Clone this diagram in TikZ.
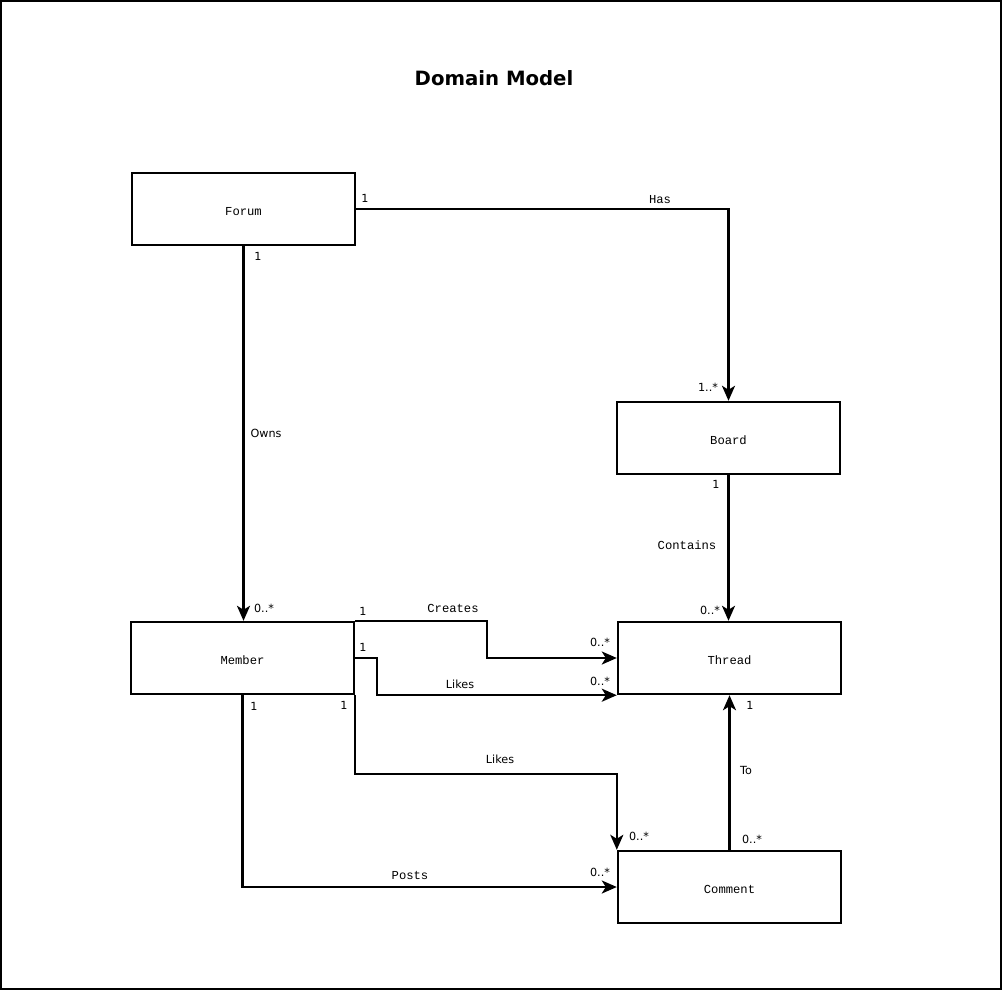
\documentclass[tikz,border=0pt]{standalone}
\usepackage{fontspec}
\setmainfont{DejaVu Sans}
\newfontfamily\monof{Liberation Mono}
\newfontfamily\sansf{DejaVu Sans}
\usetikzlibrary{arrows.meta,calc}
\begin{document}
\begin{tikzpicture}[x=1pt,y=-1pt,
  cls/.style={draw,line width=2.4pt,minimum width=223pt,minimum height=72pt,inner sep=0pt,text height=12pt,text depth=0pt,font=\monof\fontsize{12.2}{13}\selectfont},
  conn/.style={line width=2.4pt,-{Stealth[length=15pt,width=13pt,inset=4pt]}},
  ml/.style={font=\monof\fontsize{12.2}{13}\selectfont,inner sep=0pt},
  sl/.style={font=\sansf\fontsize{11.2}{13}\selectfont,inner sep=0pt}]
\useasboundingbox (0,0) rectangle (1004,993);
\draw[line width=2.2pt] (1,1) rectangle (1001,989);
\node[font=\sansf\bfseries\fontsize{19.7}{22}\selectfont] (title) at (494,78) {Domain Model};
\node[cls] (forum) at (243.5,209) {Forum};
\node[cls] (board) at (728.5,438) {Board};
\node[cls] (member) at (242.5,658) {Member};
\node[cls] (thread) at (729.5,658) {Thread};
\node[cls] (comment) at (729.5,887) {Comment};
% connectors
\draw[conn] (forum.east) -| (board.north);
\draw[conn] (forum.south) -- (forum.south |- member.north);
\draw[conn] (board.south) -- (board.south |- thread.north);
\draw[conn] (member.north east) -- ++(132,0) |- (thread.west);
\draw[conn] (member.east) -- ++(22,0) |- (thread.south west);
\draw[conn] (member.south east) -- ++(0,79) -| (comment.north west);
\draw[conn] (member.south) |- (comment.west);
\draw[conn] (comment.north) -- (thread.south);
% labels
\node[sl] (l1) at (365,198) {1};
\node[ml] (l2) at (660,200) {Has};
\node[sl] (l3) at (708,387) {1..*};
\node[sl] (l4) at (258,256) {1};
\node[sl] (l5) at (266,433) {Owns};
\node[sl] (l6) at (264,608) {0..*};
\node[sl] (l7) at (716,484) {1};
\node[ml] (l8) at (687,545) {Contains};
\node[sl] (l9) at (710,610) {0..*};
\node[ml] (l10) at (453,608) {Creates};
\node[sl] (l11) at (363,611) {1};
\node[sl] (l12) at (600,642) {0..*};
\node[sl] (l13) at (363,647) {1};
\node[sl] (l14) at (460,684) {Likes};
\node[sl] (l15) at (600,681) {0..*};
\node[sl] (l16) at (254,706) {1};
\node[sl] (l17) at (344,705) {1};
\node[sl] (l18) at (500,759) {Likes};
\node[sl] (l19) at (639,836) {0..*};
\node[ml] (l20) at (410,875) {Posts};
\node[sl] (l21) at (600,872) {0..*};
\node[sl] (l22) at (746,770) {To};
\node[sl] (l23) at (750,705) {1};
\node[sl] (l24) at (752,839) {0..*};
\end{tikzpicture}
\end{document}
